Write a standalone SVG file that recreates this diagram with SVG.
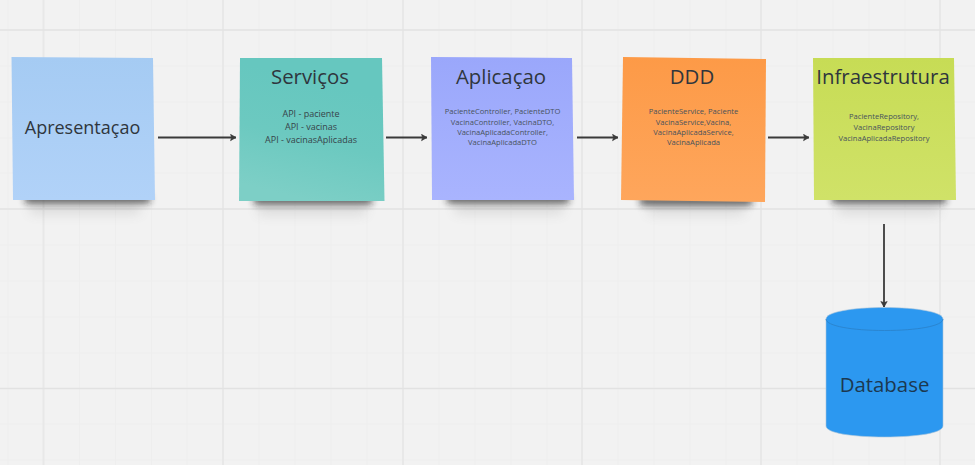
<svg xmlns="http://www.w3.org/2000/svg" width="975" height="465" viewBox="0 0 975 465">
<defs>
<filter id="blur" x="-20%" y="-200%" width="140%" height="500%"><feGaussianBlur stdDeviation="3.500"/></filter>
<filter id="blur2" x="-20%" y="-150%" width="140%" height="400%"><feGaussianBlur stdDeviation="6"/></filter>
<linearGradient id="g1" x1="0" y1="0" x2="0" y2="1"><stop offset="0" stop-color="#a5cbf3"/><stop offset="1" stop-color="#b1d2f8"/></linearGradient>
<linearGradient id="g2" x1="0.7" y1="0.2" x2="0.5" y2="1"><stop offset="0" stop-color="#66c7bf"/><stop offset="0.5" stop-color="#6cc9c0"/><stop offset="1" stop-color="#7dcfc6"/></linearGradient>
<linearGradient id="g3" x1="0" y1="0" x2="0" y2="1"><stop offset="0" stop-color="#9aa7fb"/><stop offset="1" stop-color="#a9b4fe"/></linearGradient>
<linearGradient id="g4" x1="0" y1="0" x2="0" y2="1"><stop offset="0" stop-color="#fd9a47"/><stop offset="1" stop-color="#fea65c"/></linearGradient>
<linearGradient id="g5" x1="0" y1="0" x2="0" y2="1"><stop offset="0" stop-color="#c7dc55"/><stop offset="1" stop-color="#d0e268"/></linearGradient>
<marker id="arrow" markerUnits="userSpaceOnUse" markerWidth="8" markerHeight="8" refX="7" refY="4" orient="auto"><path d="M1.500 0.800L7 4L1.500 7.200L2.600 4Z" fill="#3a3a3a" stroke="#3a3a3a" stroke-width="0.600"/></marker>
</defs>
<style>
text{font-family:"Open Sans","Noto Sans",sans-serif;text-anchor:middle}
.title{font-size:20.400px;fill:#2f363d}
.small{font-size:7.600px;fill:#47525c}
.mid{font-size:9px;fill:#37444a}
.shadow{fill:#1e1e1e;opacity:.72;filter:url(#blur)}
.halo{fill:#555;opacity:.14;filter:url(#blur2)}
.majorv{stroke:#e8e8e8;stroke-width:2;fill:none}
.majorh{stroke:#e2e2e2;stroke-width:1.500;fill:none}
.minor{stroke:#eeeeee;stroke-width:1;fill:none}
.conn{stroke:#3a3a3a;stroke-width:1.800;fill:none;marker-end:url(#arrow)}
</style>
<rect width="975" height="465" fill="#f2f2f2"/>
<g id="grid">
<path class="minor" d="M8 0V465M79.500 0V465M115.500 0V465M151.500 0V465M187 0V465M259 0V465M295 0V465M331 0V465M367 0V465M439 0V465M475 0V465M511 0V465M547 0V465M618 0V465M654 0V465M690 0V465M726 0V465M797 0V465M833 0V465M869 0V465M905 0V465"/>
<path class="minor" d="M0 66H975M0 102H975M0 138H975M0 173H975M0 245H975M0 281H975M0 317H975M0 353H975M0 424H975M0 460H975"/>
<path class="majorv" d="M43.500 0V465M223 0V465M403 0V465M582 0V465M761 0V465M940 0V465"/>
<path class="majorh" d="M0 30H975M0 209H975M0 388.500H975"/>
</g>
<g id="connectors">
<path class="conn" d="M158 137.500H236"/>
<path class="conn" d="M386 137.500H427"/>
<path class="conn" d="M577 137.500H618"/>
<path class="conn" d="M768 137.500H809"/>
<path class="conn" d="M884 224V307"/>
</g>
<g id="apresentacao">
<rect class="halo" x="30" y="200" width="110" height="14"/>
<rect class="shadow" x="25" y="195" width="125" height="8"/>
<path d="M11.500 57L153 58L155 200L13 200Z" fill="url(#g1)"/>
<text class="title" x="82.500" y="134" style="font-size:18px">Apresentaçao</text>
</g>
<g id="servicos">
<rect class="halo" x="258" y="201" width="108" height="14"/>
<rect class="shadow" x="254" y="196" width="118" height="8"/>
<path d="M240 58L382 58L384.500 201L239 201Z" fill="url(#g2)"/>
<text class="title" x="310" y="84">Serviços</text>
<text class="mid" x="311" y="117">API - paciente</text>
<text class="mid" x="311" y="130">API - vacinas</text>
<text class="mid" x="311" y="143">API - vacinasAplicadas</text>
</g>
<g id="aplicacao">
<rect class="halo" x="455" y="200" width="108" height="14"/>
<rect class="shadow" x="447" y="195" width="122" height="8"/>
<path d="M431 57L572 58L574 200L432 200Z" fill="url(#g3)"/>
<text class="title" x="501" y="84">Aplicaçao</text>
<text class="small" x="502.500" y="113.500">PacienteController, PacienteDTO</text>
<text class="small" x="502.500" y="124.500">VacinaController, VacinaDTO,</text>
<text class="small" x="502.500" y="134.500">VacinaAplicadaController,</text>
<text class="small" x="502.500" y="145">VacinaAplicadaDTO</text>
</g>
<g id="ddd">
<rect class="halo" x="648" y="201" width="96" height="14"/>
<rect class="shadow" x="640" y="197" width="112" height="8"/>
<path d="M623 57L766 59L765 202L621 200Z" fill="url(#g4)"/>
<text class="title" x="692" y="84">DDD</text>
<text class="small" x="693.500" y="113.500">PacienteService, Paciente</text>
<text class="small" x="693.500" y="124.500">VacinaService,Vacina,</text>
<text class="small" x="693.500" y="134.500">VacinaAplicadaService,</text>
<text class="small" x="693.500" y="145">VacinaAplicada</text>
</g>
<g id="infraestrutura">
<rect class="halo" x="838" y="200" width="102" height="14"/>
<rect class="shadow" x="832" y="195" width="114" height="8"/>
<path d="M813 58L954 58L956 200L814 200Z" fill="url(#g5)"/>
<text class="title" x="883" y="84">Infraestrutura</text>
<text class="small" x="884" y="118.500">PacienteRepository,</text>
<text class="small" x="884" y="129.500">VacinaRepository</text>
<text class="small" x="884" y="140.500">VacinaAplicadaRepository</text>
</g>
<g id="database">
<path d="M826 319C826 312 852 307.500 884.500 307.500C917 307.500 943 312 943 319V426C943 433 917 437 884.500 437C852 437 826 433 826 426Z" fill="#2c98f0" stroke="#a9c4da" stroke-width="0.600"/>
<path d="M826 319C826 326 852 330.500 884.500 330.500C917 330.500 943 326 943 319" fill="none" stroke="#2a80c8" stroke-width="0.800"/>
<text class="title" x="884.500" y="391.500" style="fill:#1c3850">Database</text>
</g>
</svg>
